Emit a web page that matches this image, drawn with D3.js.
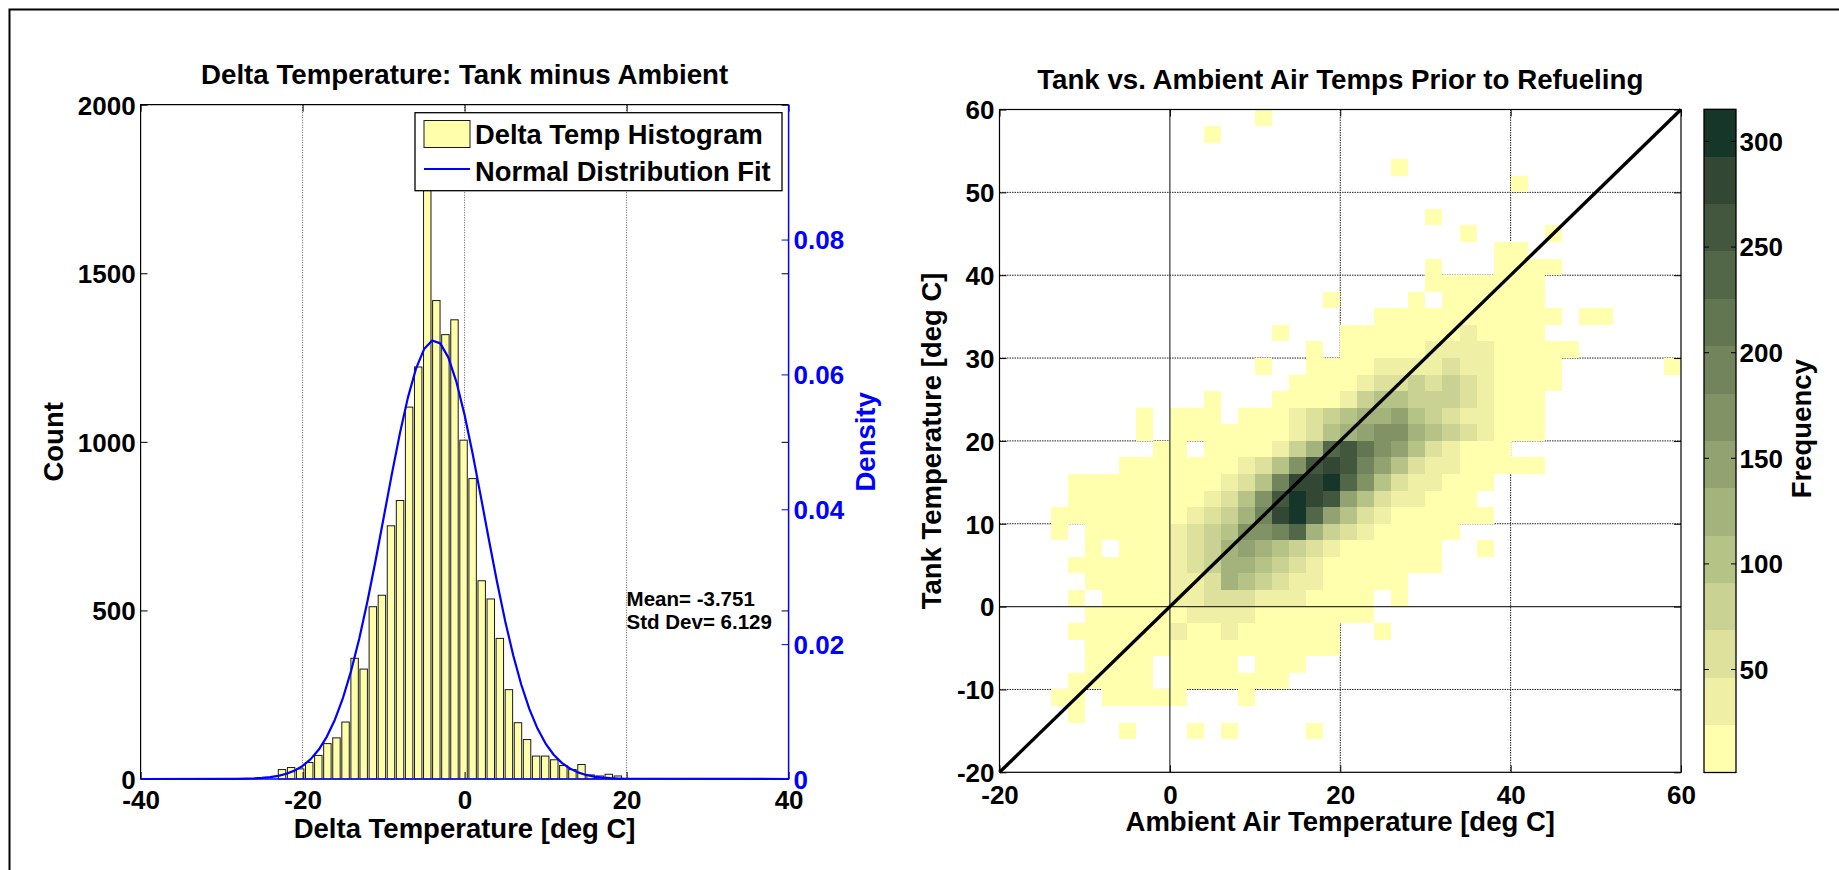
<!DOCTYPE html>
<html><head><meta charset="utf-8">
<script src="https://cdn.jsdelivr.net/npm/d3@7"></script>
<style>
html,body{margin:0;padding:0;background:#fff;}
svg{display:block;}
</style></head><body>
<svg id="chart" width="1839" height="870"></svg>
<script>
// ---------------- DATA: left histogram ----------------
const histTitle = "Delta Temperature: Tank minus Ambient";
const histXLabel = "Delta Temperature [deg C]";
const histYLabel = "Count";
const densLabel = "Density";
const histXTicks = [-40, -20, 0, 20, 40];
const countTicks = [0, 500, 1000, 1500, 2000];
const densTicks = [0, 0.02, 0.04, 0.06, 0.08];
const binCenters = [-22.54,-21.42,-20.30,-19.18,-18.06,-16.94,-15.82,-14.70,-13.58,-12.46,
  -11.33,-10.21,-9.09,-7.97,-6.85,-5.73,-4.61,-3.49,-2.37,-1.25,
  -0.13,0.99,2.11,3.23,4.35,5.47,6.59,7.71,8.83,9.95,
  11.07,12.19,13.31,14.43,15.56,16.68,17.80,18.92];
const binCounts = [28,34,30,49,70,105,122,169,358,326,
  511,545,751,826,1103,1222,1780,1419,1318,1362,
  1005,891,588,534,417,265,167,117,68,68,
  57,40,28,43,12,9,14,9];
const fitX = [-40,-28,-27,-26,-25,-24,-23,-22,-21,-20,-19,-18,-17,-16,-15,-14,-13,-12,-11,-10,
  -9,-8,-7,-6,-5,-4,-3,-2,-1,0,1,2,3,4,5,6,7,8,9,10,11,12,13,14,15,16,17,18,19,20,40];
const fitDensity = [0,0.000026,0.000049,0.000090,0.000160,0.000278,0.000470,0.000773,0.001241,0.001937,
  0.002947,0.004363,0.006293,0.008834,0.012078,0.016080,0.020845,0.026313,0.032343,0.038707,
  0.045107,0.051185,0.056559,0.060854,0.063753,0.065037,0.064604,0.062488,0.058853,0.053974,
  0.048199,0.041912,0.035486,0.029256,0.023487,0.018361,0.013976,0.010358,0.007475,0.005253,
  0.003595,0.002395,0.001554,0.000982,0.000604,0.000362,0.000211,0.000120,0.000066,0.000036,0];
const legendLabels = ["Delta Temp Histogram", "Normal Distribution Fit"];
const statLines = ["Mean= -3.751", "Std Dev= 6.129"];

// ---------------- DATA: right 2-D histogram ----------------
const heatTitle = "Tank vs. Ambient Air Temps Prior to Refueling";
const heatXLabel = "Ambient Air Temperature [deg C]";
const heatYLabel = "Tank Temperature [deg C]";
const cbLabel = "Frequency";
const heatXTicks = [-20, 0, 20, 40, 60];
const heatYTicks = [-20, -10, 0, 10, 20, 30, 40, 50, 60];
const cbTicks = [50, 100, 150, 200, 250, 300];
const cbRange = [1, 315];
// 14 frequency bands, lowest to highest
const freqColors = ["#ffffad","#efefa5","#dde19b","#c9d292","#b6c386","#a4b37b","#92a270",
  "#819365","#71845b","#627651","#526747","#42573e","#324834","#16362a"];
// each row: lower y edge, x of first cell, band per 2-degree cell ('.' = empty, 1..e = band)
const heatRowY = [58,56,52,50,46,44,42,40,38,36,34,32,30,28,26,24,22,20,18,16,14,12,10,8,6,4,2,0,-2,-4,-6,-8,-10,-12,-14,-16];
const heatRowX0 = [10,4,26,40,30,34,38,30,30,18,24,12,16,10,14,4,-4,-4,-2,-6,-12,-12,-14,-14,-10,-12,-10,-12,-10,-12,-10,-10,-12,-14,-12,-6];
const heatRowBands = [
  "1","1","1","1","1",
  "1....1",
  "11",
  "1...1111",
  "1111111",
  "1....1.111111",
  "11111111111.11",
  "1...111111121111",
  "1.11111222211111",
  "1..111122223221111......1",
  "1111233434321111",
  "1...1111245544432111",
  "1.111.111234566754322111",
  "1.1111111235678865432111",
  "11.1111246bca87532111",
  "11111112358cdc97532211111",
  "1111111112359ddeb85322111",
  "111111112358cedc75322111",
  "1111111123469deb7532111111",
  "1.111112345889b643211111",
  "1.1112346765432111111..1",
  "1111112346654321111111",
  "1111122365432211111",
  "1.1111223332221111.1",
  "11111122221111111",
  "1111112112111111..1",
  "111111111111111",
  "1111.1111.111",
  "11111.1111111",
  "11.11111...1",
  "1",
  "1...1.1....1"
];
const diagLine = [[-20,-20],[60,60]];

// ---------------- DRAW ----------------
const W = 1839, H = 870;
const FONT = "'Liberation Sans', Arial, Helvetica, sans-serif";
const BLUE = "#0000ff";
const TITLE_FS = 27.7, LABEL_FS = 27.5, TICK_FS = 26;
const svg = d3.select("#chart").attr("font-family", FONT).attr("font-weight", "bold");

// figure frame
svg.append("path").attr("d", `M9.5,${H} L9.5,9.5 L${W},9.5`)
  .attr("fill", "none").attr("stroke", "#000").attr("stroke-width", 2);

function styleAxis(g, color, size) {
  g.attr("font-size", size).attr("font-family", FONT).attr("font-weight", "bold")
   .attr("color", color);
  g.select(".domain").remove();
}

// ===== LEFT PLOT =====
const L = {x0: 140.6, x1: 788.6, y0: 104.7, y1: 779};
const xL = d3.scaleLinear().domain([-40, 40]).range([L.x0, L.x1]);
const yC = d3.scaleLinear().domain([0, 2000]).range([L.y1, L.y0]);
const yD = d3.scaleLinear().domain([0, 0.1]).range([L.y1, L.y0]);
const gL = svg.append("g");

gL.append("rect").attr("x", L.x0).attr("y", L.y0).attr("width", L.x1 - L.x0).attr("height", L.y1 - L.y0)
  .attr("fill", "#fff");
gL.selectAll("line.vgrid").data([-20, 0, 20]).join("line").attr("class", "vgrid")
  .attr("x1", d => xL(d)).attr("x2", d => xL(d)).attr("y1", L.y0).attr("y2", L.y1)
  .attr("stroke", "#555").attr("stroke-width", 1).attr("stroke-dasharray", "1,1.5");

const bw = binCenters[1] - binCenters[0];
gL.selectAll("rect.bar").data(binCenters).join("rect").attr("class", "bar")
  .attr("x", d => xL(d - 0.41 * bw)).attr("width", d => xL(d + 0.41 * bw) - xL(d - 0.41 * bw))
  .attr("y", (d, i) => yC(binCounts[i])).attr("height", (d, i) => yC(0) - yC(binCounts[i]))
  .attr("fill", "#ffffab").attr("stroke", "#1a1a1a").attr("stroke-width", 1);

// axes box
gL.append("path").attr("d", `M${L.x1},${L.y0} L${L.x0},${L.y0} L${L.x0},${L.y1}`)
  .attr("fill", "none").attr("stroke", "#000").attr("stroke-width", 1.2);

// ticks
const axLB = gL.append("g").attr("transform", `translate(0,${L.y1})`)
  .call(d3.axisBottom(xL).tickValues(histXTicks).tickFormat(d => String(d)).tickSizeInner(-7).tickSizeOuter(0).tickPadding(0));
styleAxis(axLB, "#000", TICK_FS);
axLB.selectAll("text").attr("y", 30).attr("dy", null);
const axLT = gL.append("g").attr("transform", `translate(0,${L.y0})`)
  .call(d3.axisTop(xL).tickValues(histXTicks).tickFormat("").tickSizeInner(-7).tickSizeOuter(0));
styleAxis(axLT, "#000", TICK_FS);
const axLL = gL.append("g").attr("transform", `translate(${L.x0},0)`)
  .call(d3.axisLeft(yC).tickValues(countTicks).tickFormat(d => String(d)).tickSizeInner(-7).tickSizeOuter(0).tickPadding(5));
styleAxis(axLL, "#000", TICK_FS);
axLL.selectAll("text").attr("dy", "0.36em");
const axLR = gL.append("g").attr("transform", `translate(${L.x1},0)`)
  .call(d3.axisRight(yC).tickValues(countTicks).tickFormat("").tickSizeInner(-7).tickSizeOuter(0));
styleAxis(axLR, "#000", TICK_FS);

// normal fit
const fitLine = d3.line().x((d, i) => xL(fitX[i])).y(d => yD(d));
gL.append("path").datum(fitDensity).attr("d", fitLine)
  .attr("fill", "none").attr("stroke", BLUE).attr("stroke-width", 2.2).attr("stroke-linejoin", "round");

// density axis (blue)
gL.append("path").attr("d", `M${L.x0},${L.y1} L${L.x1},${L.y1} L${L.x1},${L.y0}`)
  .attr("fill", "none").attr("stroke", BLUE).attr("stroke-width", 1.5);
const axD = gL.append("g").attr("transform", `translate(${L.x1},0)`)
  .call(d3.axisRight(yD).tickValues(densTicks).tickFormat(d => d === 0 ? "0" : d.toFixed(2)).tickSizeInner(-7).tickSizeOuter(0).tickPadding(5));
styleAxis(axD, BLUE, TICK_FS);
axD.selectAll("text").attr("dy", "0.36em");

// stats text
gL.selectAll("text.stat").data(statLines).join("text").attr("class", "stat")
  .attr("x", xL(20)).attr("y", (d, i) => 606 + i * 23.3)
  .attr("font-size", 20.5).attr("fill", "#000").text(d => d);

// legend
const lg = gL.append("g");
lg.append("rect").attr("x", 415).attr("y", 112.7).attr("width", 367).attr("height", 78)
  .attr("fill", "#fff").attr("stroke", "#000").attr("stroke-width", 1.3);
lg.append("rect").attr("x", 424).attr("y", 120.5).attr("width", 46).attr("height", 27)
  .attr("fill", "#ffffab").attr("stroke", "#1a1a1a").attr("stroke-width", 1);
lg.append("line").attr("x1", 424).attr("x2", 470).attr("y1", 169).attr("y2", 169)
  .attr("stroke", BLUE).attr("stroke-width", 2);
lg.selectAll("text").data(legendLabels).join("text")
  .attr("x", 475).attr("y", (d, i) => 143.6 + i * 37.5).attr("font-size", 27.3).attr("fill", "#000").text(d => d);

// titles & labels
svg.append("text").attr("x", (L.x0 + L.x1) / 2).attr("y", 83.5).attr("text-anchor", "middle")
  .attr("font-size", TITLE_FS).text(histTitle);
svg.append("text").attr("x", (L.x0 + L.x1) / 2).attr("y", 838).attr("text-anchor", "middle")
  .attr("font-size", LABEL_FS).text(histXLabel);
svg.append("text").attr("transform", `translate(62.5,${(L.y0 + L.y1) / 2}) rotate(-90)`)
  .attr("text-anchor", "middle").attr("font-size", LABEL_FS).text(histYLabel);
svg.append("text").attr("transform", `translate(874.6,${(L.y0 + L.y1) / 2}) rotate(-90)`)
  .attr("text-anchor", "middle").attr("font-size", LABEL_FS).attr("fill", BLUE).text(densLabel);

// ===== RIGHT PLOT =====
const R = {x0: 999.5, x1: 1681, y0: 109.5, y1: 772.3};
const xR = d3.scaleLinear().domain([-20, 60]).range([R.x0, R.x1]);
const yR = d3.scaleLinear().domain([-20, 60]).range([R.y1, R.y0]);
const gR = svg.append("g");

// grid (under cells)
gR.selectAll("line.gx").data([20, 40]).join("line").attr("class", "gx")
  .attr("x1", d => xR(d)).attr("x2", d => xR(d)).attr("y1", R.y0).attr("y2", R.y1)
  .attr("stroke", "#222").attr("stroke-width", 1).attr("stroke-dasharray", "1.5,1");
gR.selectAll("line.gy").data([-10, 10, 20, 30, 40, 50]).join("line").attr("class", "gy")
  .attr("x1", R.x0).attr("x2", R.x1).attr("y1", d => yR(d)).attr("y2", d => yR(d))
  .attr("stroke", "#222").attr("stroke-width", 1).attr("stroke-dasharray", "1.5,1");

// cells
const cells = [];
heatRowY.forEach((y, i) => {
  const s = heatRowBands[i];
  for (let k = 0; k < s.length; k++) {
    if (s[k] === ".") continue;
    cells.push({x: heatRowX0[i] + 2 * k, y: y, band: parseInt(s[k], 16)});
  }
});
const bandColor = d3.scaleOrdinal().domain(d3.range(1, freqColors.length + 1)).range(freqColors);
gR.selectAll("rect.cell").data(cells).join("rect").attr("class", "cell")
  .attr("x", d => xR(d.x)).attr("width", d => xR(d.x + 2) - xR(d.x))
  .attr("y", d => yR(d.y + 2)).attr("height", d => yR(d.y) - yR(d.y + 2))
  .attr("fill", d => bandColor(d.band)).attr("shape-rendering", "crispEdges");

// zero lines on top
gR.append("line").attr("x1", xR(0)).attr("x2", xR(0)).attr("y1", R.y0).attr("y2", R.y1)
  .attr("stroke", "#333").attr("stroke-width", 1.2);
gR.append("line").attr("x1", R.x0).attr("x2", R.x1).attr("y1", yR(0)).attr("y2", yR(0))
  .attr("stroke", "#333").attr("stroke-width", 1.2);

// diagonal
gR.append("path").datum(diagLine).attr("d", d3.line().x(d => xR(d[0])).y(d => yR(d[1])))
  .attr("stroke", "#000").attr("stroke-width", 3.4).attr("fill", "none");

// box
gR.append("rect").attr("x", R.x0).attr("y", R.y0).attr("width", R.x1 - R.x0).attr("height", R.y1 - R.y0)
  .attr("fill", "none").attr("stroke", "#000").attr("stroke-width", 1.2);

const axRB = gR.append("g").attr("transform", `translate(0,${R.y1})`)
  .call(d3.axisBottom(xR).tickValues(heatXTicks).tickFormat(d => String(d)).tickSizeInner(-7).tickSizeOuter(0).tickPadding(0));
styleAxis(axRB, "#000", TICK_FS);
axRB.selectAll("text").attr("y", 31.5).attr("dy", null);
const axRT = gR.append("g").attr("transform", `translate(0,${R.y0})`)
  .call(d3.axisTop(xR).tickValues(heatXTicks).tickFormat("").tickSizeInner(-7).tickSizeOuter(0));
styleAxis(axRT, "#000", TICK_FS);
const axRL = gR.append("g").attr("transform", `translate(${R.x0},0)`)
  .call(d3.axisLeft(yR).tickValues(heatYTicks).tickFormat(d => String(d)).tickSizeInner(-7).tickSizeOuter(0).tickPadding(5));
styleAxis(axRL, "#000", TICK_FS);
axRL.selectAll("text").attr("dy", "0.36em");
const axRR = gR.append("g").attr("transform", `translate(${R.x1},0)`)
  .call(d3.axisRight(yR).tickValues(heatYTicks).tickFormat("").tickSizeInner(-7).tickSizeOuter(0));
styleAxis(axRR, "#000", TICK_FS);

svg.append("text").attr("x", (R.x0 + R.x1) / 2).attr("y", 88.5).attr("text-anchor", "middle")
  .attr("font-size", TITLE_FS).text(heatTitle);
svg.append("text").attr("x", (R.x0 + R.x1) / 2).attr("y", 831).attr("text-anchor", "middle")
  .attr("font-size", LABEL_FS).text(heatXLabel);
svg.append("text").attr("transform", `translate(941,${(R.y0 + R.y1) / 2}) rotate(-90)`)
  .attr("text-anchor", "middle").attr("font-size", LABEL_FS).text(heatYLabel);

// ===== COLORBAR =====
const CB = {x0: 1704, x1: 1736, y0: 109.3, y1: 772.5};
const yCB = d3.scaleLinear().domain(cbRange).range([CB.y1, CB.y0]);
const qz = d3.scaleQuantize().domain(cbRange).range(freqColors);
const gCB = svg.append("g");
gCB.selectAll("rect.band").data(freqColors).join("rect").attr("class", "band")
  .attr("x", CB.x0).attr("width", CB.x1 - CB.x0)
  .attr("y", c => yCB(qz.invertExtent(c)[1])).attr("height", c => yCB(qz.invertExtent(c)[0]) - yCB(qz.invertExtent(c)[1]))
  .attr("fill", c => c).attr("shape-rendering", "crispEdges");
gCB.append("rect").attr("x", CB.x0).attr("y", CB.y0).attr("width", CB.x1 - CB.x0).attr("height", CB.y1 - CB.y0)
  .attr("fill", "none").attr("stroke", "#000").attr("stroke-width", 1.3);
const axCBR = gCB.append("g").attr("transform", `translate(${CB.x1},0)`)
  .call(d3.axisRight(yCB).tickValues(cbTicks).tickFormat(d => String(d)).tickSizeInner(-5).tickSizeOuter(0).tickPadding(3.5));
styleAxis(axCBR, "#000", TICK_FS);
axCBR.selectAll("text").attr("dy", "0.36em");
const axCBL = gCB.append("g").attr("transform", `translate(${CB.x0},0)`)
  .call(d3.axisLeft(yCB).tickValues(cbTicks).tickFormat("").tickSizeInner(-5).tickSizeOuter(0));
styleAxis(axCBL, "#000", TICK_FS);
svg.append("text").attr("transform", `translate(1811,428.7) rotate(-90)`)
  .attr("text-anchor", "middle").attr("font-size", LABEL_FS).text(cbLabel);
</script>
</body></html>
